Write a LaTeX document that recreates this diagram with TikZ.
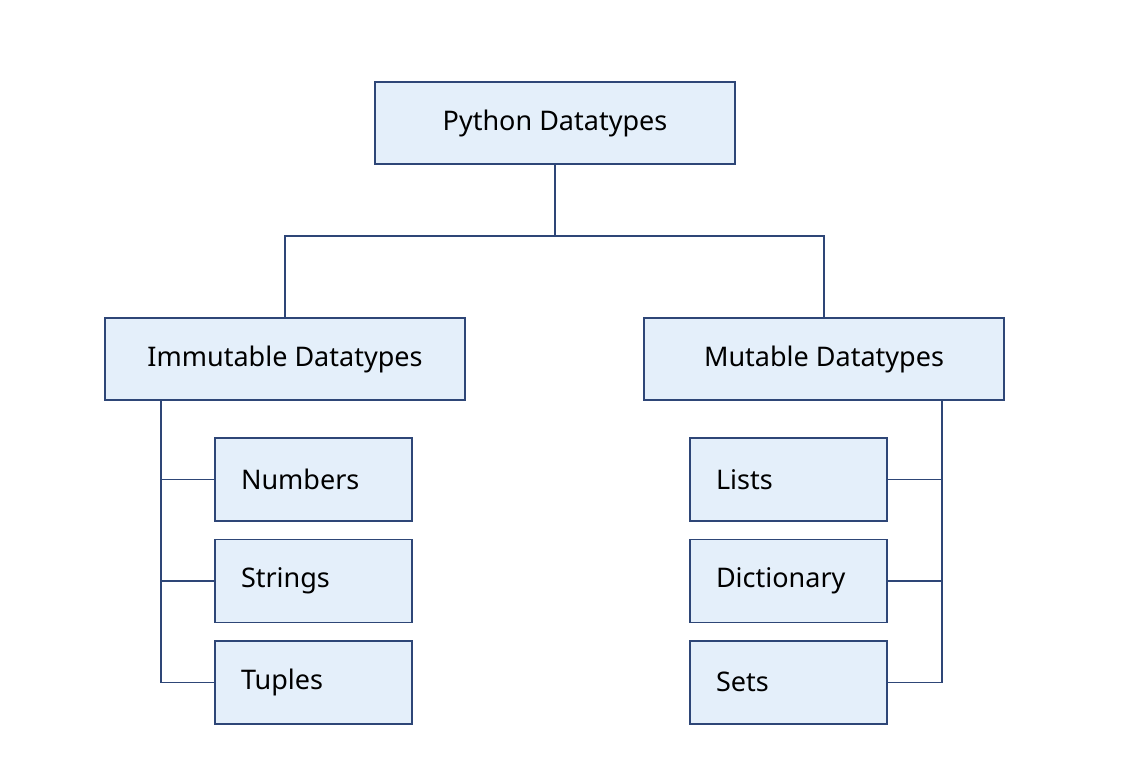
\documentclass[tikz,border=0pt]{standalone}
\usepackage{fontspec}
\setmainfont{Noto Sans}
\usepackage{xcolor}
\usetikzlibrary{positioning}

\definecolor{boxfill}{HTML}{E4EFFA}
\definecolor{boxline}{HTML}{2E4677}

\begin{document}
\begin{tikzpicture}[
    every node/.style={font=\fontsize{13.5}{16}\selectfont, outer sep=0pt},
    category/.style={rectangle, draw=boxline, line width=0.7pt, fill=boxfill, minimum width=180pt, minimum height=41pt, align=center},
    leaf/.style={rectangle, draw=boxline, line width=0.7pt, fill=boxfill, minimum width=98.5pt, minimum height=41.5pt, text width=72.5pt, inner xsep=13pt, align=left},
    link/.style={boxline, line width=0.7pt}
]
\useasboundingbox (0,0) rectangle (564pt,-388pt);
\node (root) [category] at (277.5pt,-61.5pt) {Python Datatypes};
\node (immutable) [category, below=77pt of root, xshift=-135pt] {Immutable Datatypes};
\node (mutable) [category, below=77pt of root, xshift=134.5pt] {Mutable Datatypes};

% immutable side
\node (numbers) [leaf, below right=19pt and 55pt of immutable.south west, anchor=north west] {Numbers};
\node (strings) [leaf, below=9.2pt of numbers] {Strings};
\node (tuples) [leaf, below=9.2pt of strings] {Tuples};

% mutable side
\node (lists) [leaf, below left=19pt and 58.5pt of mutable.south east, anchor=north east] {Lists};
\node (dict) [leaf, below=9.2pt of lists] {Dictionary};
\node (sets) [leaf, below=9.2pt of dict] {Sets};

\coordinate (split) at ([yshift=-36pt]root.south);
\coordinate (leftbus) at ([xshift=28pt]immutable.south west);
\coordinate (rightbus) at ([xshift=-31pt]mutable.south east);

\draw [link] (root.south) -- (split) -| (immutable.north);
\draw [link] (split) -| (mutable.north);
\draw [link] (leftbus) |- (numbers.west);
\draw [link] (leftbus) |- (strings.west);
\draw [link] (leftbus) |- (tuples.west);
\draw [link] (rightbus) |- (lists.east);
\draw [link] (rightbus) |- (dict.east);
\draw [link] (rightbus) |- (sets.east);
\end{tikzpicture}
\end{document}
